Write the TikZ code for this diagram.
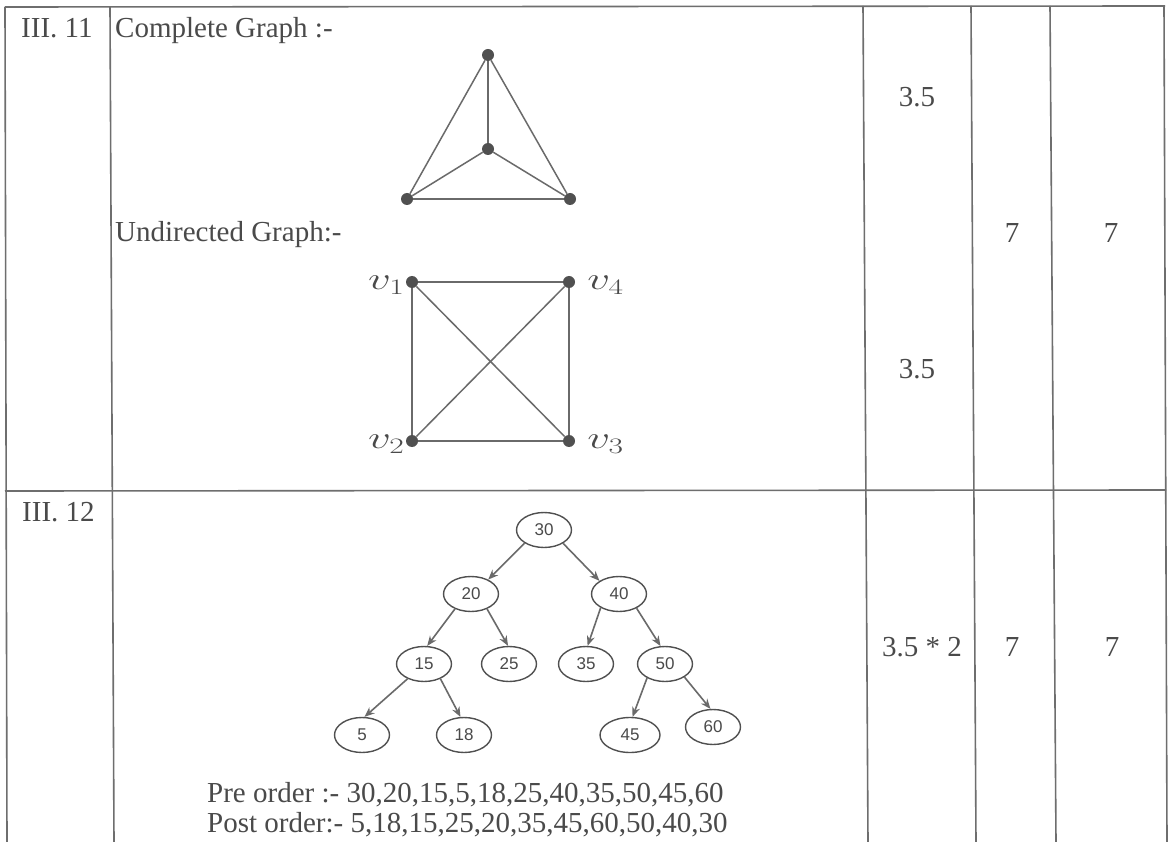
\RequirePackage{fix-cm}
\documentclass[tikz,border=0pt]{standalone}
\usepackage{fontspec}
\setmainfont{Liberation Serif}
\newfontfamily\treefont{Liberation Sans}
\usetikzlibrary{shapes.geometric,arrows.meta}
\definecolor{ink}{HTML}{4A4A4A}
\definecolor{rulec}{HTML}{6E6E6E}
\definecolor{edgec}{HTML}{6A6A6A}
\definecolor{dotc}{HTML}{505050}
\begin{document}
\begin{tikzpicture}[x=1pt,y=-1pt,
  txt/.style={inner sep=0, text=ink, font=\fontsize{29}{29}\selectfont},
  mlabel/.style={inner sep=0, text=ink, font=\fontsize{30}{30}\selectfont},
  tline/.style={draw=rulec, line width=1.6pt},
  gdot/.style={circle, fill=dotc, inner sep=0, minimum size=12pt},
  gedge/.style={draw=edgec, line width=1.5pt},
  tnode/.style={ellipse, draw=dotc, line width=1.4pt, minimum width=55pt, minimum height=35pt, inner sep=0, font=\treefont\fontsize{17}{17}\selectfont, text=ink},
  tarrow/.style={draw=edgec, line width=1.6pt, -{Stealth[length=10pt,width=8pt]}},
]
\useasboundingbox (0,0) rectangle (1168,842);
\fill[white] (0,0) rectangle (1168,842);

% table rules
\draw[tline] (5,7) -- (1165,6);
\draw[tline] (5,491) -- (1166,490);
\draw[tline] (5,7) -- (7,842);
\draw[tline] (110,7) -- (114,842);
\draw[tline] (863,6) -- (868,842);
\draw[tline] (971,6) -- (976,842);
\draw[tline] (1050,6) -- (1056,842);
\draw[tline] (1164,6) -- (1167,842);

% row 1 texts
\node[txt, anchor=base west] (r1) at (21,38) {III. 11};
\node[txt, anchor=base west] (cg) at (115,38) {Complete Graph :-};
\node[txt, anchor=base west] (ug) at (115,242) {Undirected Graph:-};
\node[txt, anchor=base] (m1) at (917,107) {3.5};
\node[txt, anchor=base] (m2) at (917,378) {3.5};
\node[txt, anchor=base] (s1) at (1012,243) {7};
\node[txt, anchor=base] (t1) at (1111,243) {7};

% complete graph K4
\node[gdot] (kt) at (488,55) {};
\node[gdot] (kc) at (488,149) {};
\node[gdot] (kl) at (407,199) {};
\node[gdot] (kr) at (570,199) {};
\draw[gedge] (kt) -- (kc);
\draw[gedge] (kt) -- (kl);
\draw[gedge] (kt) -- (kr);
\draw[gedge] (kc) -- (kl);
\draw[gedge] (kc) -- (kr);
\draw[gedge] (kl) -- (kr);

% undirected graph
\node[gdot] (v1) at (412,282) {};
\node[gdot] (v4) at (569,282) {};
\node[gdot] (v2) at (412,441) {};
\node[gdot] (v3) at (569,441) {};
\draw[gedge] (v1) -- (v4);
\draw[gedge] (v1) -- (v2);
\draw[gedge] (v1) -- (v3);
\draw[gedge] (v4) -- (v2);
\draw[gedge] (v4) -- (v3);
\draw[gedge] (v2) -- (v3);
\node[mlabel, anchor=east] (l1) at ([xshift=-1pt,yshift=-3pt]v1.west) {\scalebox{1.5}[1.05]{$v_1$}};
\node[mlabel, anchor=west] (l4) at ([xshift=12pt,yshift=-3pt]v4.east) {\scalebox{1.5}[1.05]{$v_4$}};
\node[mlabel, anchor=east] (l2) at ([xshift=-1pt,yshift=-3pt]v2.west) {\scalebox{1.5}[1.05]{$v_2$}};
\node[mlabel, anchor=west] (l3) at ([xshift=12pt,yshift=-3pt]v3.east) {\scalebox{1.5}[1.05]{$v_3$}};

% row 2 texts
\node[txt, anchor=base west] (r2) at (22,521) {III. 12};
\node[txt, anchor=base west] (m3) at (882,656) {3.5 * 2};
\node[txt, anchor=base] (s2) at (1012,656) {7};
\node[txt, anchor=base] (t2) at (1112,656) {7};

% binary search tree
\node[tnode] (n30) at (544,530) {30};
\node[tnode] (n20) at (471,594) {20};
\node[tnode] (n40) at (619,594) {40};
\node[tnode] (n15) at (424,664) {15};
\node[tnode] (n25) at (509,664) {25};
\node[tnode] (n35) at (586,664) {35};
\node[tnode] (n50) at (665,664) {50};
\node[tnode] (n5) at (362,735) {5};
\node[tnode] (n18) at (464,735) {18};
\node[tnode, minimum width=60pt] (n45) at (630,735) {45};
\node[tnode] (n60) at (713,727) {60};
\draw[tarrow] (n30.214) -- (n20.40);
\draw[tarrow] (n30.325) -- (n40.146);
\draw[tarrow] (n20.223) -- (n15.80);
\draw[tarrow] (n20.317) -- (n25.93);
\draw[tarrow] (n40.217) -- (n35.85);
\draw[tarrow] (n40.321) -- (n50.104);
\draw[tarrow] (n15.222) -- (n5.82);
\draw[tarrow] (n15.318) -- (n18.101);
\draw[tarrow] (n50.218) -- (n45.82);
\draw[tarrow] (n50.326) -- (n60.98);

\node[txt, anchor=base west] (pre) at (207,802) {Pre order :- 30,20,15,5,18,25,40,35,50,45,60};
\node[txt, anchor=base west] (post) at (207,832) {Post order:- 5,18,15,25,20,35,45,60,50,40,30};
\end{tikzpicture}
\end{document}
